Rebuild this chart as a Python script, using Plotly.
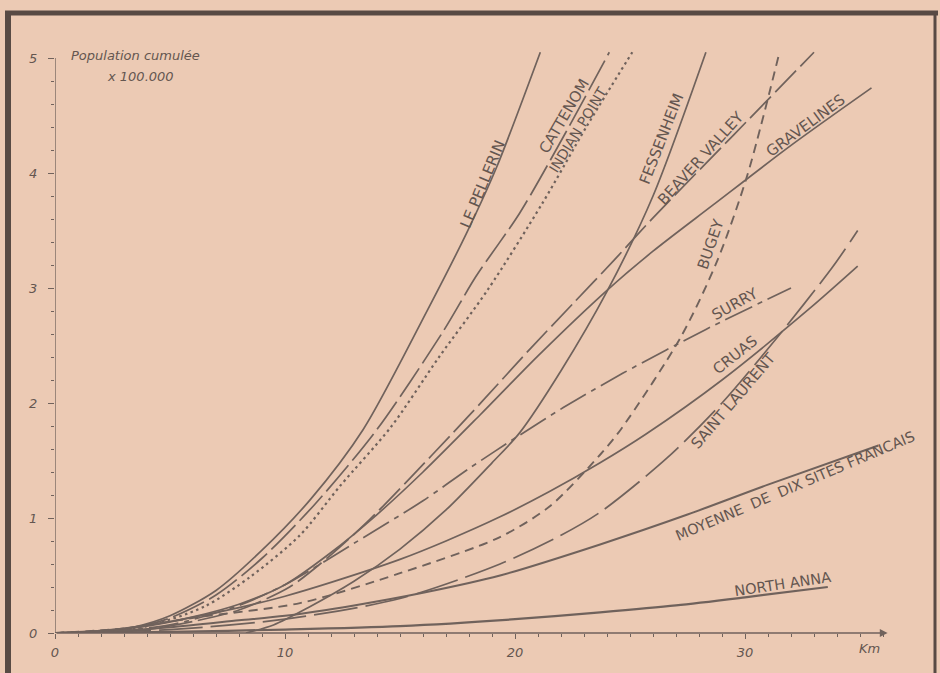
import plotly.graph_objects as go

# Distance from the site (km) and cumulative population (x 100 000)
le_pellerin_km = [0, 2, 3.4, 5, 7, 9, 11.1, 13.4, 16.2, 17.9, 19.2, 21.1]
le_pellerin_pop = [0, 0.01, 0.05, 0.15, 0.37, 0.72, 1.16, 1.77, 2.81, 3.48, 4.05, 5.05]

cattenom_km = [0, 2, 3.5, 5, 7, 9, 11.3, 14.0, 16.9, 18.3, 20.2, 22.2, 24.1]
cattenom_pop = [0, 0.01, 0.05, 0.13, 0.33, 0.65, 1.12, 1.77, 2.63, 3.10, 3.65, 4.35, 5.05]

indian_point_km = [0, 2, 4, 6.5, 8.5, 10.65, 12.4, 14.6, 16.7, 18.8, 21.2, 23.1, 25.1]
indian_point_pop = [0, 0.01, 0.06, 0.23, 0.49, 0.85, 1.28, 1.79, 2.40, 2.98, 3.74, 4.40, 5.05]

fessenheim_km = [8.3, 9.5, 11, 13, 15, 17, 19, 20.2, 22, 24, 26, 28.3]
fessenheim_pop = [0, 0.07, 0.22, 0.45, 0.73, 1.07, 1.48, 1.74, 2.28, 2.97, 3.8, 5.05]

beaver_valley_km = [0, 2, 4, 6, 8, 10.2, 12, 13.7, 15.5, 17.3, 18.6, 20.7, 22.5, 24.3, 26.0, 29.5, 33.0]
beaver_valley_pop = [0, 0.01, 0.03, 0.1, 0.2, 0.4, 0.68, 0.99, 1.36, 1.74, 2.02, 2.48, 2.86, 3.24, 3.61, 4.33, 5.05]

gravelines_km = [0, 2, 4, 6, 8, 10, 12, 14, 16, 18.5, 21, 24, 26, 28.6, 32, 35.5]
gravelines_pop = [0, 0.02, 0.06, 0.14, 0.25, 0.42, 0.7, 1.03, 1.4, 1.9, 2.41, 2.98, 3.32, 3.72, 4.24, 4.74]

bugey_km = [0, 3, 6.3, 10.65, 15, 19.3, 21.5, 23.7, 24.6, 27.2, 28.8, 30.1, 31.5]
bugey_pop = [0, 0.04, 0.14, 0.26, 0.52, 0.83, 1.1, 1.55, 1.77, 2.57, 3.24, 3.98, 5.05]

surry_km = [0, 2, 5, 8, 10, 13, 16, 18, 20.2, 22.1, 24.7, 28.3, 32.0]
surry_pop = [0, 0.01, 0.07, 0.24, 0.42, 0.78, 1.15, 1.43, 1.72, 1.96, 2.26, 2.64, 3.0]

cruas_km = [0, 2, 5, 8, 10, 12, 15, 17, 19.35, 21.5, 23.7, 25.7, 29, 32.8, 34.9]
cruas_pop = [0, 0.02, 0.1, 0.22, 0.32, 0.44, 0.64, 0.8, 1.01, 1.23, 1.48, 1.73, 2.2, 2.82, 3.19]

saint_laurent_km = [0, 5, 10, 15, 19.35, 22, 23.7, 26.6, 29, 31.4, 33.8, 34.9]
saint_laurent_pop = [0, 0.03, 0.12, 0.3, 0.6, 0.85, 1.05, 1.52, 2.0, 2.57, 3.18, 3.5]

moyenne_km = [0, 2, 5, 8, 10, 13, 16, 19.35, 23.7, 27.5, 31, 35.8]
moyenne_pop = [0, 0.01, 0.05, 0.11, 0.15, 0.24, 0.35, 0.5, 0.77, 1.03, 1.29, 1.63]

north_anna_km = [0, 5, 10, 15, 20, 23.7, 27, 30, 33.6]
north_anna_pop = [0, 0.01, 0.03, 0.06, 0.12, 0.18, 0.24, 0.31, 0.40]

y_ticks = [0, 1, 2, 3, 4, 5]
x_ticks = [0, 10, 20, 30]

INK = "rgb(112,98,92)"
TEXT = "rgb(100,86,80)"
PAPER = "rgb(236,202,180)"
FRAME = "rgb(88,74,68)"

series = [
    (le_pellerin_km, le_pellerin_pop, "solid", 1.7),
    (cattenom_km, cattenom_pop, "34px,6px", 1.7),
    (indian_point_km, indian_point_pop, "2.5px,3.5px", 2.2),
    (fessenheim_km, fessenheim_pop, "solid", 1.7),
    (beaver_valley_km, beaver_valley_pop, "30px,6px", 1.7),
    (gravelines_km, gravelines_pop, "solid", 1.7),
    (bugey_km, bugey_pop, "9px,6px", 1.9),
    (surry_km, surry_pop, "30px,6px,5px,6px", 1.7),
    (cruas_km, cruas_pop, "solid", 1.7),
    (saint_laurent_km, saint_laurent_pop, "44px,8px", 1.7),
    (moyenne_km, moyenne_pop, "solid", 2.0),
    (north_anna_km, north_anna_pop, "solid", 2.2),
]

fig = go.Figure()
for xs, ys, dash, w in series:
    fig.add_trace(go.Scatter(
        x=xs, y=ys, mode="lines",
        line=dict(color=INK, width=w, dash=dash, shape="spline", smoothing=0.8),
        hoverinfo="skip", showlegend=False,
    ))

# Page geometry (pixels) used to place the frame and the axis unit
W, H = 940, 673
ML, MR, MT, MB = 55, 50, 47, 40


def px_x(p):
    return (p - ML) / (W - ML - MR)


def px_y(p):
    return (H - MB - p) / (H - MT - MB)


# Curve names written along each curve: (text, km, pop, angle, size)
curve_labels = [
    ("LE PELLERIN", 18.57, 3.90, -67.5, 15),
    ("CATTENOM", 22.13, 4.50, -59.7, 15),
    ("INDIAN POINT", 22.74, 4.37, -58.7, 14),
    ("FESSENHEIM", 26.35, 4.30, -68.6, 15),
    ("BEAVER VALLEY", 28.09, 4.13, -47.8, 15),
    ("GRAVELINES", 32.61, 4.41, -36.4, 15),
    ("BUGEY", 28.52, 3.38, -71.0, 15),
    ("SURRY", 29.57, 2.86, -29.0, 15),
    ("CRUAS", 29.57, 2.42, -38.5, 15),
    ("SAINT LAURENT", 29.48, 2.02, -49.5, 15),
    ("MOYENNE  DE  DIX SITES FRANCAIS", 32.17, 1.28, -23.0, 14.5),
    ("NORTH ANNA", 31.65, 0.43, -8.5, 14.5),
]
annotations = []
for text, x, y, ang, size in curve_labels:
    annotations.append(dict(
        x=x, y=y, xref="x", yref="y", text=text, showarrow=False,
        textangle=ang, font=dict(family="DejaVu Sans", size=size, color=TEXT),
    ))

# Axis captions
annotations += [
    dict(x=3.48, y=5.02, xref="x", yref="y", text="<i>Population cumulée</i>",
         showarrow=False, font=dict(family="DejaVu Sans", size=13, color=TEXT)),
    dict(x=3.7, y=4.84, xref="x", yref="y", text="<i>x 100.000</i>",
         showarrow=False, font=dict(family="DejaVu Sans", size=13, color=TEXT)),
    dict(x=px_x(869), y=px_y(648), xref="paper", yref="paper", text="<i>Km</i>",
         xanchor="center", yanchor="middle",
         showarrow=False, font=dict(family="DejaVu Sans", size=13, color=TEXT)),
    # x-axis with arrow head
    dict(x=36.2, y=0, ax=0, ay=0, xref="x", yref="y", axref="x", ayref="y",
         text="", showarrow=True, arrowhead=2, arrowsize=1.2, arrowwidth=1.3,
         arrowcolor=INK),
]

shapes = [
    # y-axis line
    dict(type="line", xref="x", yref="y", x0=0, y0=0, x1=0, y1=5,
         line=dict(color=INK, width=1.3)),
    # frame: top, left, right
    dict(type="line", xref="paper", yref="paper", x0=px_x(5), x1=px_x(938),
         y0=px_y(13), y1=px_y(13), line=dict(color=FRAME, width=5)),
    dict(type="line", xref="paper", yref="paper", x0=px_x(8), x1=px_x(8),
         y0=px_y(11), y1=px_y(680), line=dict(color=FRAME, width=6)),
    dict(type="line", xref="paper", yref="paper", x0=px_x(935), x1=px_x(935),
         y0=px_y(11), y1=px_y(680), line=dict(color=FRAME, width=3)),
]

fig.update_layout(
    width=W, height=H,
    margin=dict(l=ML, r=MR, t=MT, b=MB),
    paper_bgcolor=PAPER, plot_bgcolor=PAPER,
    annotations=annotations, shapes=shapes,
    font=dict(family="DejaVu Sans", color=TEXT),
)
fig.update_xaxes(
    range=[0, (W - ML - MR) / 23], showgrid=False, zeroline=False, showline=False,
    tickmode="array", tickvals=x_ticks, ticktext=[f"<i>{v}</i>" for v in x_ticks],
    ticks="outside", ticklen=5, tickwidth=1.2, tickcolor=INK,
    minor=dict(dtick=1, ticks="outside", ticklen=3, tickwidth=1, tickcolor=INK, showgrid=False),
    tickfont=dict(size=13, color=TEXT), ticklabelstandoff=2,
)
fig.update_yaxes(
    range=[0, (H - MT - MB) / 115], showgrid=False, zeroline=False, showline=False,
    tickmode="array", tickvals=y_ticks, ticktext=[f"<i>{v}</i>" for v in y_ticks],
    ticks="outside", ticklen=6, tickwidth=1.2, tickcolor=INK,
    minor=dict(dtick=0.2, ticks="outside", ticklen=3, tickwidth=1, tickcolor=INK, showgrid=False),
    tickfont=dict(size=13, color=TEXT), ticklabelstandoff=8,
)

fig.write_html("out.html")
